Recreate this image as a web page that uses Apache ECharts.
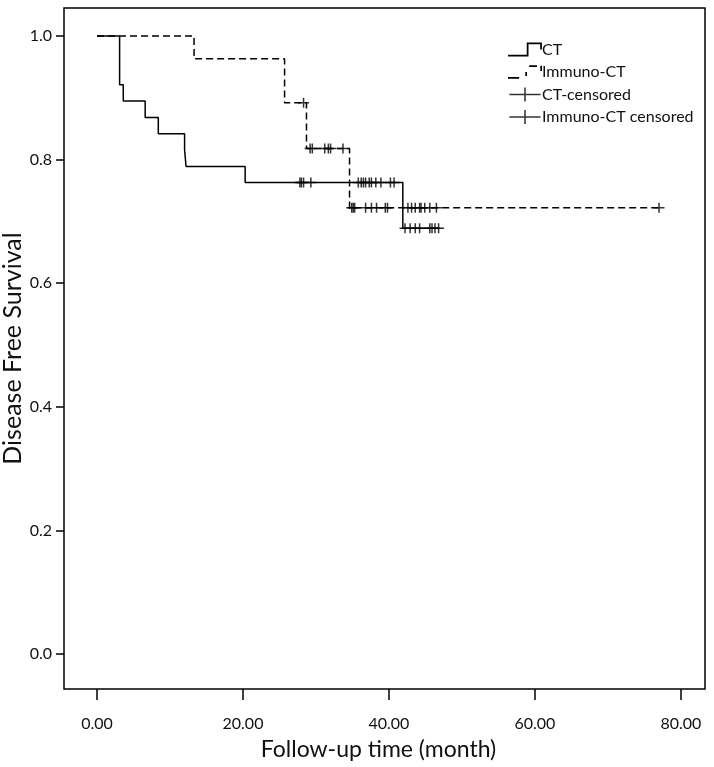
<!DOCTYPE html>
<html>
<head>
<meta charset="utf-8">
<script src="https://cdn.jsdelivr.net/npm/echarts@6/dist/echarts.min.js"></script>
<style>
html,body{margin:0;padding:0;background:#fff;}
#chart{width:714px;height:767px;}
</style>
</head>
<body>
<div id="chart"></div>
<script>
// ---- data ----
const ctTimes = [0, 3.1, 3.6, 6.6, 8.4, 12.0, 12.2, 20.3, 41.9];
const ctSurv  = [1, 0.921, 0.895, 0.868, 0.842, 0.816, 0.789, 0.763, 0.689];
const ctCensored = [27.8, 28.0, 28.3, 29.3, 35.8, 36.2, 36.5, 36.8, 37.3, 37.6, 38.2, 38.9, 40.2, 40.7,
                    42.2, 42.9, 43.6, 44.2, 45.6, 45.9, 46.3, 46.8];
const imTimes = [0, 13.3, 25.7, 28.7, 34.6];
const imSurv  = [1, 0.963, 0.892, 0.818, 0.722];
const imCensored = [28.3, 29.2, 29.5, 31.2, 31.7, 32.0, 33.7, 34.9, 35.1, 35.3, 36.8, 37.6, 38.3, 39.5, 39.8,
                    42.6, 43.1, 43.6, 44.2, 44.4, 44.9, 45.6, 46.5, 77.0];
const seriesNames = ['CT', 'Immuno-CT', 'CT-censored', 'Immuno-CT censored'];
const xTickValues = [0, 20, 40, 60, 80];
const yTickValues = [0, 0.2, 0.4, 0.6, 0.8, 1.0];
const xRange = [-4.52, 83.3];
const yRange = [-0.0566, 1.0453];
const xTitle = 'Follow-up time (month)';
const yTitle = 'Disease Free Survival';

function survAt(times, surv, t) {
  let s = surv[0];
  for (let i = 0; i < times.length; i++) { if (times[i] <= t) s = surv[i]; }
  return s;
}
function stepData(times, surv, censored) {
  const d = times.map((t, i) => [t, surv[i]]);
  const last = censored[censored.length - 1];
  d.push([last, survAt(times, surv, last)]);
  return d;
}
const FONT = 'Lato';
const crossPath = 'path://M0,4.25 H11 V5.75 H0 Z M4.75,0 H6.25 V10 H4.75 Z';

const chart = echarts.init(document.getElementById('chart'), null, {renderer: 'canvas'});
chart.setOption({
  animation: false,
  backgroundColor: '#fff',
  textStyle: {fontFamily: FONT, color: '#111'},
  grid: {left: 64, right: 9, top: 8, bottom: 78, containLabel: false, outerBoundsMode: 'none',
         show: true, borderColor: '#000', borderWidth: 1.5, backgroundColor: 'transparent'},
  legend: {
    orient: 'vertical', left: 503, top: 36.5, itemWidth: 34, itemHeight: 14, itemGap: 6.5,
    textStyle: {fontFamily: FONT, fontSize: 16, lineHeight: 14, color: '#111', padding: [0, 0, 0, -5]},
    data: [
      {name: seriesNames[0], icon: 'path://M0,10.5 H16 V0 H29 V6 H27.5 V1.5 H17.5 V12 H0 Z'},
      {name: seriesNames[1], icon: 'path://M0,10.5 H10 V12 H0 Z M15.5,6 H17 V9.5 H15.5 Z M19,0 H26 V1.5 H19 Z M29,0.5 H30.5 V5 H29 Z'},
      {name: seriesNames[2], icon: 'path://M0,6 H30 V7.5 H0 Z M14.25,0 H15.75 V13.5 H14.25 Z'},
      {name: seriesNames[3], icon: 'path://M0,6 H30 V7.5 H0 Z M14.25,0 H15.75 V13.5 H14.25 Z'}
    ],
    itemStyle: {color: '#000'}
  },
  xAxis: {
    type: 'value', min: xRange[0], max: xRange[1],
    axisLine: {show: false, onZero: false},
    axisTick: {show: true, length: 11, customValues: xTickValues, lineStyle: {color: '#000', width: 1.5}},
    splitLine: {show: false},
    axisLabel: {margin: 27, fontSize: 16, color: '#111', fontFamily: FONT, customValues: xTickValues,
                formatter: v => v.toFixed(2)},
    name: xTitle, nameLocation: 'middle', nameGap: 49, nameMoveOverlap: false,
    nameTextStyle: {fontSize: 23, color: '#111', fontFamily: FONT, padding: [0, 12, 0, 0]}
  },
  yAxis: {
    type: 'value', min: yRange[0], max: yRange[1],
    axisLine: {show: false, onZero: false},
    axisTick: {show: true, length: 8, customValues: yTickValues, lineStyle: {color: '#000', width: 1.5}},
    splitLine: {show: false},
    axisLabel: {margin: 12, fontSize: 16, color: '#111', fontFamily: FONT, customValues: yTickValues,
                formatter: v => v.toFixed(1)},
    name: yTitle, nameLocation: 'middle', nameGap: 39, nameMoveOverlap: false,
    nameTextStyle: {fontSize: 25, color: '#111', fontFamily: FONT}
  },
  series: [
    {
      name: seriesNames[0], type: 'line', step: 'end', symbol: 'none',
      data: stepData(ctTimes, ctSurv, ctCensored),
      lineStyle: {color: '#000', width: 1.5}, itemStyle: {color: '#000'}, z: 3
    },
    {
      name: seriesNames[1], type: 'line', step: 'end', symbol: 'none',
      data: stepData(imTimes, imSurv, imCensored),
      lineStyle: {color: '#000', width: 1.5, type: [7, 4]}, itemStyle: {color: '#000'}, z: 3
    },
    {
      name: seriesNames[2], type: 'scatter', symbol: crossPath, symbolSize: [11, 10],
      data: ctCensored.map(t => [t, survAt(ctTimes, ctSurv, t)]),
      itemStyle: {color: '#000'}, z: 4
    },
    {
      name: seriesNames[3], type: 'scatter', symbol: crossPath, symbolSize: [11, 10],
      data: imCensored.map(t => [t, survAt(imTimes, imSurv, t)]),
      itemStyle: {color: '#000'}, z: 4
    }
  ]
});
</script>
</body>
</html>
